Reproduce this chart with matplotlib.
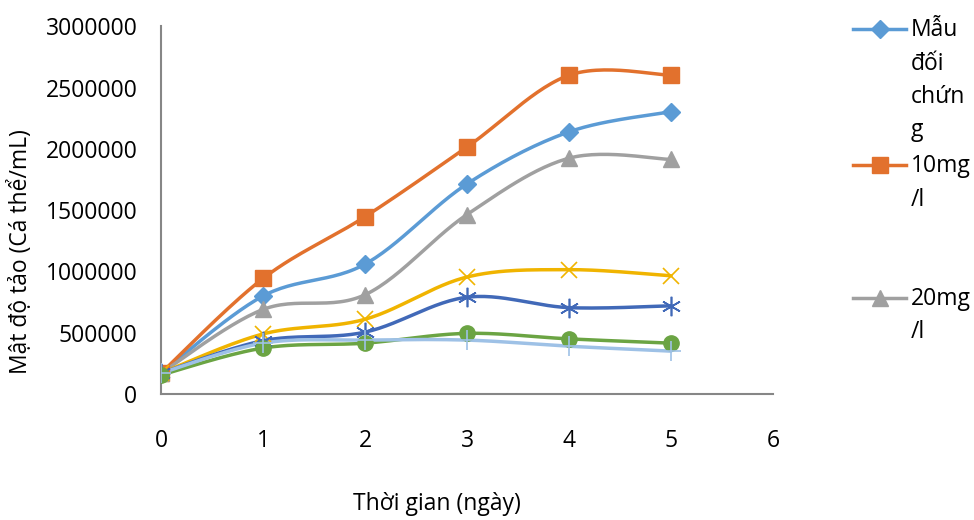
import numpy as np
import matplotlib
matplotlib.use("Agg")
import matplotlib.pyplot as plt
from matplotlib.lines import Line2D

plt.rcParams['font.family'] = ['Open Sans', 'DejaVu Sans']

days = [0, 1, 2, 3, 4, 5]
control = [170000, 800000, 1060000, 1715000, 2140000, 2305000]
mg10 = [170000, 943000, 1447000, 2016000, 2602000, 2602000]
mg20 = [170000, 690000, 810000, 1465000, 1925000, 1915000]
s4 = [170000, 490000, 610000, 955000, 1015000, 965000]
s5 = [170000, 435000, 505000, 790000, 705000, 720000]
s6 = [155000, 375000, 415000, 495000, 450000, 415000]
s7 = [170000, 415000, 440000, 440000, 390000, 350000]

series = [
    ("Mẫu đối chứng", control, "#5B9BD5", "D", 9),
    ("10mg/l", mg10, "#E2712D", "s", 11),
    ("20mg/l", mg20, "#A0A0A0", "^", 11),
    ("s4", s4, "#F0B400", "x", 12),
    ("s5", s5, "#4169B8", (6, 2, 0), 14),
    ("s6", s6, "#6BA443", "o", 11),
    ("s7", s7, "#9EC1E6", "+", 14),
]

legend_lines = [["Mẫu", "đối", "chứn", "g"], ["10mg", "/l"], ["20mg", "/l"]]

yticks = [0, 500000, 1000000, 1500000, 2000000, 2500000, 3000000]
xticks = [0, 1, 2, 3, 4, 5, 6]


def smooth(x, y, n=30):
    x = np.asarray(x, float)
    y = np.asarray(y, float)
    px = np.concatenate([[x[0]], x, [x[-1]]])
    py = np.concatenate([[y[0]], y, [y[-1]]])
    xs, ys = [], []
    t = np.linspace(0, 1, n)
    for i in range(1, len(px) - 2):
        p0 = np.array([px[i], py[i]])
        p3 = np.array([px[i + 1], py[i + 1]])
        p1 = p0 + (np.array([px[i + 1], py[i + 1]]) - np.array([px[i - 1], py[i - 1]])) / 6
        p2 = p3 - (np.array([px[i + 2], py[i + 2]]) - np.array([px[i], py[i]])) / 6
        b = ((1 - t) ** 3)[:, None] * p0 + (3 * (1 - t) ** 2 * t)[:, None] * p1 \
            + (3 * (1 - t) * t ** 2)[:, None] * p2 + (t ** 3)[:, None] * p3
        xs.append(b[:, 0])
        ys.append(b[:, 1])
    return np.concatenate(xs), np.concatenate(ys)


fig = plt.figure(figsize=(9.74, 5.2), dpi=100)
ax = fig.add_axes([161 / 974, 1 - 394 / 520, (773 - 161) / 974, (394 - 26.5) / 520])

for name, vals, col, mk, ms in series:
    sx, sy = smooth(days, vals)
    ax.plot(sx, sy, color=col, lw=2.5, solid_capstyle='round', zorder=2)
    if mk in ("x", "+", (6, 2, 0)):
        ax.plot(days, vals, linestyle='none', marker=mk, markersize=ms,
                markeredgecolor=col, markerfacecolor='none', markeredgewidth=1.2, zorder=3)
    else:
        ax.plot(days, vals, linestyle='none', marker=mk, markersize=ms,
                markeredgecolor=col, markerfacecolor=col, zorder=3)

ax.set_xlim(0, 6)
ax.set_ylim(0, 3000000)
ax.set_xticks(xticks)
ax.set_yticks(yticks)
ax.set_xticklabels([str(v) for v in xticks])
ax.set_yticklabels([str(v) for v in yticks])
for s in ("top", "right"):
    ax.spines[s].set_visible(False)
for s in ("left", "bottom"):
    ax.spines[s].set_color("#868686")
    ax.spines[s].set_linewidth(1.5)
ax.tick_params(axis='both', length=0, labelsize=16.5, colors='black')
ax.tick_params(axis='y', pad=17)
ax.tick_params(axis='x', pad=25)

fig.text(437 / 974, 1 - 504 / 520, "Thời gian (ngày)", ha='center', va='center', fontsize=16.5)
fig.text(21 / 974, 1 - 252 / 520, "Mật độ tảo (Cá thể/mL)", ha='center', va='center',
         rotation=90, fontsize=16.5)

entry_y = [29, 165, 298]
for (name, vals, col, mk, ms), lines, ey in zip(series[:3], legend_lines, entry_y):
    yf = 1 - ey / 520
    fig.add_artist(Line2D([853 / 974, 906 / 974], [yf, yf], color=col, lw=2.5,
                          transform=fig.transFigure))
    fig.add_artist(Line2D([879.5 / 974], [yf], marker=mk, markersize=ms, color=col,
                          transform=fig.transFigure))
    for k, ln in enumerate(lines):
        fig.text(911 / 974, 1 - (ey + 1 + 33.5 * k) / 520, ln, ha='left', va='center',
                 fontsize=16.5)

fig.savefig("out.png", dpi=100)
